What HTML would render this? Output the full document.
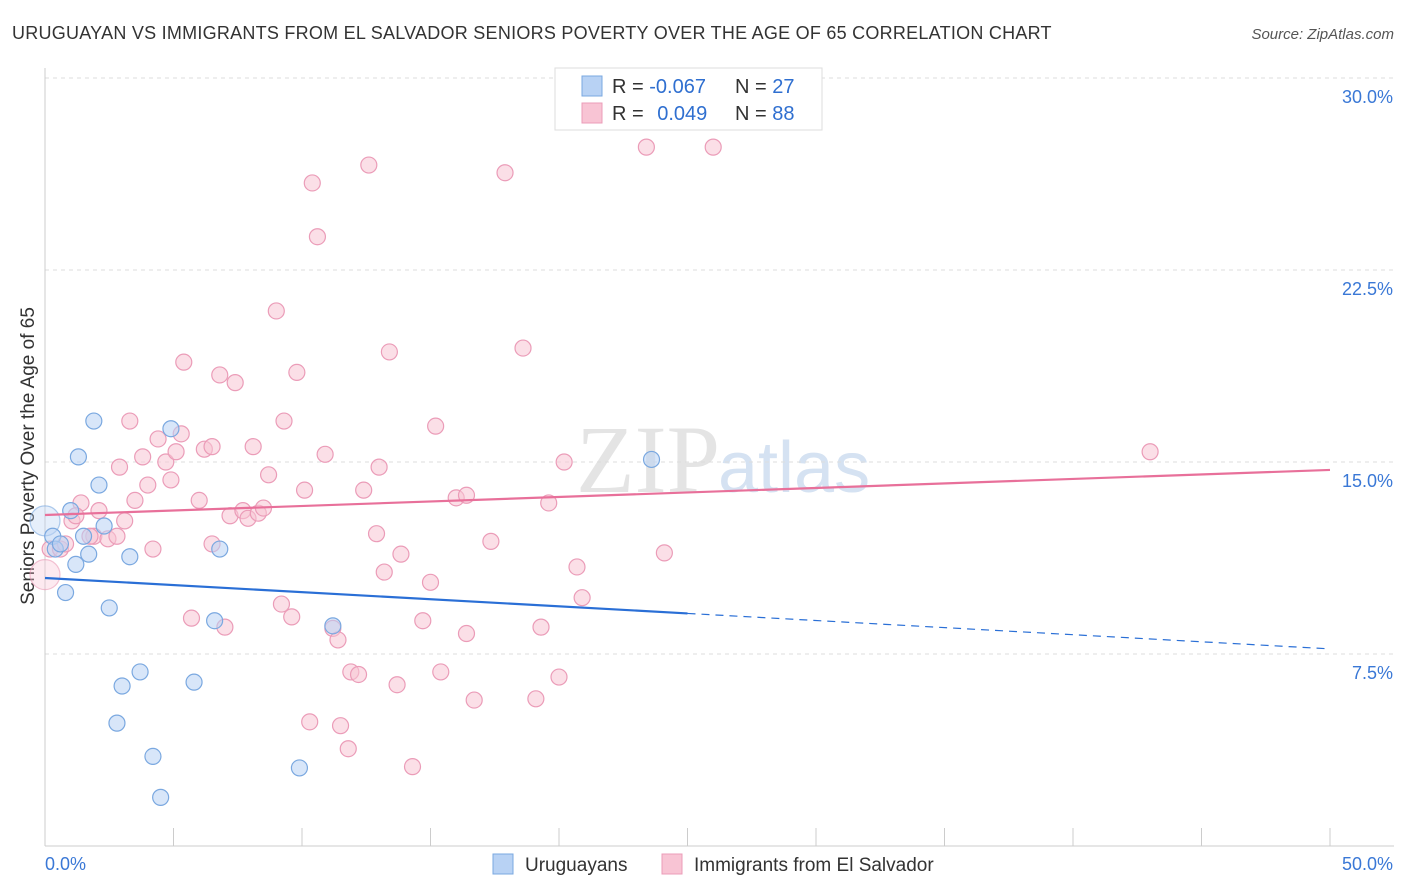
<!DOCTYPE html>
<html><head><meta charset="utf-8">
<style>
body{margin:0;background:#fff;font-family:"Liberation Sans",sans-serif;}
#wrap{position:relative;width:1406px;height:892px;overflow:hidden;}
</style></head>
<body>
<div id="wrap">
<svg id="svg" width="1406" height="892" xmlns="http://www.w3.org/2000/svg">
<text x="12" y="39" font-size="18" fill="#333" letter-spacing="0.25">URUGUAYAN VS IMMIGRANTS FROM EL SALVADOR SENIORS POVERTY OVER THE AGE OF 65 CORRELATION CHART</text>
<text x="1394" y="39" font-size="15" fill="#555" text-anchor="end" font-style="italic">Source: ZipAtlas.com</text>
<text x="34" y="456" font-size="19" fill="#333" text-anchor="middle" transform="rotate(-90 34 456)">Seniors Poverty Over the Age of 65</text>
<text x="720" y="492" font-size="96" fill="#e4e4e4" text-anchor="end" font-family="Liberation Serif,serif">ZIP</text>
<text x="718" y="492" font-size="72" fill="#d5e2f2">atlas</text>
<g id="grid"></g><g id="marks"></g>
<g>
<rect x="555" y="68" width="267" height="62" fill="#fff" stroke="#ddd"/>
<rect x="582" y="76" width="20" height="20" fill="#b8d2f4" stroke="#7aa8e0"/>
<rect x="582" y="103" width="20" height="20" fill="#f8c4d4" stroke="#eb9cb8"/>
<text x="612" y="93" font-size="20" fill="#333">R = <tspan fill="#2f6fd0">-0.067</tspan></text>
<text x="735" y="93" font-size="20" fill="#333">N = <tspan fill="#2f6fd0">27</tspan></text>
<text x="612" y="120" font-size="20" fill="#333">R = <tspan fill="#2f6fd0" dx="8">0.049</tspan></text>
<text x="735" y="120" font-size="20" fill="#333">N = <tspan fill="#2f6fd0">88</tspan></text>
</g>
<g>
<rect x="493" y="854" width="20" height="20" fill="#b8d2f4" stroke="#7aa8e0"/>
<text x="525" y="871" font-size="19" fill="#333">Uruguayans</text>
<rect x="662" y="854" width="20" height="20" fill="#f8c4d4" stroke="#eb9cb8"/>
<text x="694" y="871" font-size="19" fill="#333">Immigrants from El Salvador</text>
</g>
</svg>
</div>
<script>
const yTicks=[7.5,15,22.5,30];
const yTickLabels=["7.5%","15.0%","22.5%","30.0%"];
const xTickLabels=["0.0%","50.0%"];
const blueX=[0,0.3,0.4,0.6,1.0,1.2,1.3,0.8,1.7,1.5,1.9,2.1,2.3,2.5,3.3,3.0,3.7,2.8,4.2,4.5,4.9,5.8,6.6,6.8,9.9,11.2,23.6];
const blueY=[12.7,12.1,11.6,11.8,13.1,11.0,15.2,9.9,11.4,12.1,16.6,14.1,12.5,9.3,11.3,6.25,6.8,4.8,3.5,1.9,16.3,6.4,8.8,11.6,3.05,8.6,15.1];
const pinkX=[0,0.2,0.6,0.8,1.05,1.4,1.2,2.1,1.9,1.75,2.45,2.8,3.1,2.9,3.3,3.5,3.8,4.0,4.2,4.4,4.7,4.9,5.1,5.3,5.4,5.7,6.0,6.2,6.5,6.5,6.8,7.0,7.2,7.4,7.7,7.9,8.1,8.3,8.5,8.7,9.0,9.2,9.3,9.6,9.8,10.1,10.3,10.4,10.6,10.9,11.2,11.4,11.5,11.8,11.9,12.2,12.4,12.6,12.9,13.2,13.0,13.4,13.7,13.85,14.3,14.7,15.0,15.2,15.4,16.0,16.4,16.4,16.7,17.35,17.9,18.6,19.1,19.3,19.6,20.0,20.2,20.7,20.9,23.4,24.1,26.0,43.0];
const pinkY=[10.6,11.6,11.6,11.8,12.7,13.4,12.9,13.1,12.1,12.1,12.0,12.1,12.7,14.8,16.6,13.5,15.2,14.1,11.6,15.9,15.0,14.3,15.4,16.1,18.9,8.9,13.5,15.5,15.6,11.8,18.4,8.55,12.9,18.1,13.1,12.8,15.6,13.0,13.2,14.5,20.9,9.45,16.6,8.95,18.5,13.9,4.85,25.9,23.8,15.3,8.5,8.05,4.7,3.8,6.8,6.7,13.9,26.6,12.2,10.7,14.8,19.3,6.3,11.4,3.1,8.8,10.3,16.4,6.8,13.6,13.7,8.3,5.7,11.9,26.3,19.45,5.75,8.55,13.4,6.6,15.0,10.9,9.7,27.3,11.45,27.3,15.4];
const blueTrend=[10.47,7.7];
const pinkTrend=[12.93,14.69];
const NS="http://www.w3.org/2000/svg";
const X0=45,X1=1330,Y0=846,YTOP=78;
function sx(v){return X0+(X1-X0)*v/50;}
function sy(v){return Y0-(Y0-YTOP)*v/30;}
function mk(tag,attrs,parent){const e=document.createElementNS(NS,tag);for(const k in attrs)e.setAttribute(k,attrs[k]);parent.appendChild(e);return e;}
const grid=document.getElementById('grid'),marks=document.getElementById('marks');
yTicks.forEach((t,i)=>{
 const l=mk('line',{x1:X0,x2:1394,y1:sy(t),y2:sy(t),stroke:'#ddd','stroke-dasharray':'4,4'},grid);
 
 
 const tx=mk('text',{x:1393,y:sy(t)+25,'font-size':18,fill:'#3a78d6','text-anchor':'end'},grid);
 tx.textContent=yTickLabels[i];
 
 
});
const ax=mk('line',{x1:X0,x2:X0,y1:68,y2:Y0,stroke:'#ccc'},grid);


const bx=mk('line',{x1:X0,x2:1394,y1:Y0,y2:Y0,stroke:'#ccc'},grid);


for(let v=0;v<=50;v+=5){
 const t=mk('line',{x1:sx(v),x2:sx(v),y1:828,y2:Y0,stroke:'#ccc'},grid);
 
 
}
[[0,'start',45],[50,'end',1393]].forEach((a,i)=>{
 const t=mk('text',{x:a[2],y:870,'font-size':18,fill:'#3a78d6','text-anchor':a[1]},grid);
 t.textContent=xTickLabels[i];
 
 
});
function dots(xs,ys,fill,stroke,name){
 xs.forEach((x,i)=>{
  const big=x===0;
  const c=mk('circle',{cx:sx(x),cy:sy(ys[i]),r:(big?15:8),fill:fill,'fill-opacity':(big?0.35:0.55),stroke:stroke,'stroke-width':1.2,'stroke-opacity':(big?0.6:1)},marks);
  
  
 });
}
dots(pinkX,pinkY,'#f8c4d4','#eb9cb8','pink-point');
dots(blueX,blueY,'#b8d2f4','#7aa8e0','blue-point');
function yAt(tr,x){return tr[0]+(tr[1]-tr[0])*x/50;}
const b1=mk('line',{x1:sx(0),y1:sy(blueTrend[0]),x2:sx(25),y2:sy(yAt(blueTrend,25)),stroke:'#2a6fd6','stroke-width':2.2},marks);


const b2=mk('line',{x1:sx(25),y1:sy(yAt(blueTrend,25)),x2:sx(50),y2:sy(blueTrend[1]),stroke:'#2a6fd6','stroke-width':1.2,'stroke-dasharray':'8,6'},marks);


const p1=mk('line',{x1:sx(0),y1:sy(pinkTrend[0]),x2:sx(50),y2:sy(pinkTrend[1]),stroke:'#e8709a','stroke-width':2.2},marks);


</script>
</body></html>
